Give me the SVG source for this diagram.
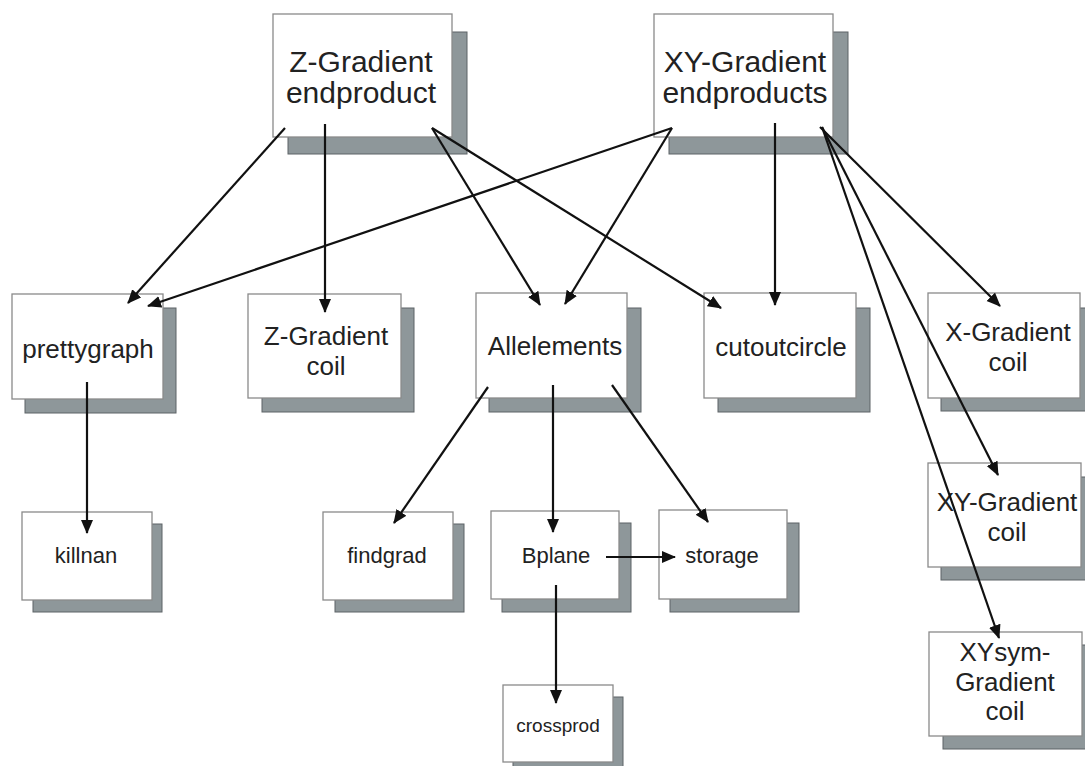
<svg xmlns="http://www.w3.org/2000/svg" width="1085" height="766" viewBox="0 0 1085 766">
  <style>
    .shadow { fill: #8e979a; stroke: #5c6366; stroke-width: 1; }
    .box { fill: #ffffff; stroke: #8a8a8a; stroke-width: 1.3; }
    text { font-family: "Liberation Sans", Arial, sans-serif; fill: #222; text-anchor: middle; }
    .t1 { font-size: 30px; }
    .t2 { font-size: 26px; }
    .t3 { font-size: 22px; }
    .t4 { font-size: 19px; }
    .edge { stroke: #111; stroke-width: 2.2; fill: none; marker-end: url(#arrow); }
  </style>
  <defs>
    <marker id="arrow" markerUnits="userSpaceOnUse" markerWidth="15" markerHeight="13" refX="13" refY="6" orient="auto">
      <path d="M0,0 L14,6 L0,12 z" fill="#111"/>
    </marker>
  </defs>

  <rect width="1085" height="766" fill="#ffffff"/>

  <!-- top level -->
  <g id="z-gradient-endproduct">
    <rect class="shadow" x="288" y="32" width="179" height="122"/>
    <rect class="box" x="273" y="14" width="179" height="123"/>
    <text class="t1" x="361" y="72">Z-Gradient<tspan x="361" dy="31">endproduct</tspan></text>
  </g>
  <g id="xy-gradient-endproducts">
    <rect class="shadow" x="669" y="32" width="179" height="122"/>
    <rect class="box" x="654" y="14" width="179" height="123"/>
    <text class="t1" x="745" y="72">XY-Gradient<tspan x="745" dy="31">endproducts</tspan></text>
  </g>

  <!-- middle level -->
  <g id="prettygraph">
    <rect class="shadow" x="25" y="308" width="151" height="105"/>
    <rect class="box" x="12" y="294" width="151" height="105"/>
    <text class="t2" x="88" y="358">prettygraph</text>
  </g>
  <g id="z-gradient-coil">
    <rect class="shadow" x="262" y="308" width="152" height="104"/>
    <rect class="box" x="248" y="294" width="153" height="104"/>
    <text class="t2" x="326" y="345">Z-Gradient<tspan x="326" dy="29.5">coil</tspan></text>
  </g>
  <g id="allelements">
    <rect class="shadow" x="489" y="308" width="152" height="104"/>
    <rect class="box" x="476" y="293" width="151" height="105"/>
    <text class="t2" x="555" y="355">Allelements</text>
  </g>
  <g id="cutoutcircle">
    <rect class="shadow" x="718" y="308" width="152" height="104"/>
    <rect class="box" x="704" y="293" width="152" height="105"/>
    <text class="t2" x="781" y="356">cutoutcircle</text>
  </g>
  <g id="x-gradient-coil">
    <rect class="shadow" x="941" y="308" width="152" height="103"/>
    <rect class="box" x="928" y="293" width="152" height="105"/>
    <text class="t2" x="1008" y="341">X-Gradient<tspan x="1008" dy="29.5">coil</tspan></text>
  </g>
  <g id="xy-gradient-coil">
    <rect class="shadow" x="941" y="477" width="152" height="103"/>
    <rect class="box" x="928" y="463" width="153" height="104"/>
    <text class="t2" x="1007" y="511">XY-Gradient<tspan x="1007" dy="29.5">coil</tspan></text>
  </g>
  <g id="xysym-gradient-coil">
    <rect class="shadow" x="943" y="645" width="152" height="104"/>
    <rect class="box" x="929" y="632" width="153" height="104"/>
    <text class="t2" x="1005" y="661">XYsym-<tspan x="1005" dy="29.5">Gradient</tspan><tspan x="1005" dy="29.5">coil</tspan></text>
  </g>

  <!-- bottom level -->
  <g id="killnan">
    <rect class="shadow" x="33" y="524" width="129" height="88"/>
    <rect class="box" x="22" y="512" width="130" height="88"/>
    <text class="t3" x="86" y="563">killnan</text>
  </g>
  <g id="findgrad">
    <rect class="shadow" x="335" y="524" width="129" height="88"/>
    <rect class="box" x="323" y="512" width="130" height="88"/>
    <text class="t3" x="387" y="563">findgrad</text>
  </g>
  <g id="bplane">
    <rect class="shadow" x="502" y="523" width="129" height="89"/>
    <rect class="box" x="491" y="511" width="128" height="88"/>
    <text class="t3" x="556" y="563">Bplane</text>
  </g>
  <g id="storage">
    <rect class="shadow" x="670" y="523" width="129" height="89"/>
    <rect class="box" x="659" y="510" width="128" height="89"/>
    <text class="t3" x="722" y="563">storage</text>
  </g>
  <g id="crossprod">
    <rect class="shadow" x="513" y="697" width="110" height="76"/>
    <rect class="box" x="503" y="685" width="110" height="77"/>
    <text class="t4" x="558" y="732">crossprod</text>
  </g>

  <!-- connectors, drawn over the boxes -->
  <g id="connectors">
    <line class="edge" x1="285" y1="128" x2="128" y2="303"/>
    <line class="edge" x1="325" y1="124" x2="325" y2="312"/>
    <line class="edge" x1="432" y1="128" x2="540" y2="305"/>
    <line class="edge" x1="432" y1="128" x2="721" y2="308"/>
    <line class="edge" x1="672" y1="128" x2="148" y2="306"/>
    <line class="edge" x1="672" y1="128" x2="565" y2="304"/>
    <line class="edge" x1="775" y1="123" x2="775" y2="305"/>
    <line class="edge" x1="820" y1="127" x2="1000" y2="306"/>
    <line class="edge" x1="822" y1="127" x2="998" y2="475"/>
    <line class="edge" x1="822" y1="127" x2="999" y2="638"/>
    <line class="edge" x1="87" y1="382" x2="87" y2="533"/>
    <line class="edge" x1="488" y1="387" x2="394" y2="523"/>
    <line class="edge" x1="553" y1="385" x2="553" y2="532"/>
    <line class="edge" x1="612" y1="385" x2="708" y2="522"/>
    <line class="edge" x1="606" y1="557" x2="675" y2="557"/>
    <line class="edge" x1="556" y1="585" x2="556" y2="703"/>
  </g>
</svg>
